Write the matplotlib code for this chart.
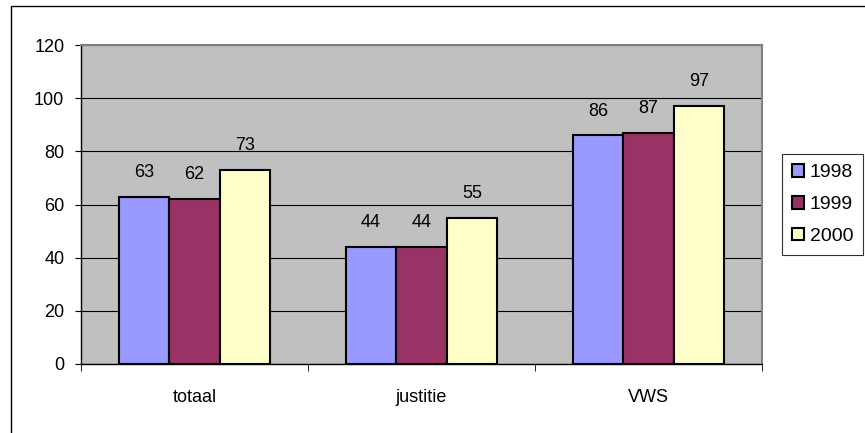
import matplotlib.pyplot as plt
import numpy as np
from matplotlib.patches import Rectangle

# chart data
categories = ["totaal", "justitie", "VWS"]
years = ["1998", "1999", "2000"]
v1998 = [63, 44, 86]
v1999 = [62, 44, 87]
v2000 = [73, 55, 97]

colors = ["#9999FF", "#993366", "#FFFFCC"]

plt.rcParams["font.family"] = ["Liberation Sans", "DejaVu Sans"]
plt.rcParams["font.size"] = 13

fig = plt.figure(figsize=(8.65, 4.33), dpi=100)
ax = fig.add_axes([81 / 865, 1 - 364 / 433, (762 - 81) / 865, (364 - 45) / 433])

# outer chart border (left and top visible)
fig.patches.append(Rectangle((11 / 865, -0.05), 1.0, 1 - 6.5 / 433 + 0.05,
                             transform=fig.transFigure, fill=False,
                             edgecolor="black", linewidth=1.0))

ax.set_facecolor("#C0C0C0")
x = np.arange(len(categories))
width = 0.223
for i, (year, vals) in enumerate(zip(years, [v1998, v1999, v2000])):
    bars = ax.bar(x + (i - 1) * width, vals, width, color=colors[i],
                  edgecolor="black", linewidth=1.5, label=year, zorder=3)
    for b, v in zip(bars, vals):
        ax.annotate(str(v), (b.get_x() + b.get_width() / 2, v),
                    xytext=(0, 17.5), textcoords="offset points",
                    ha="center", va="center", zorder=4)

ax.set_xlim(-0.5, 2.5)
ax.set_ylim(0, 120)
ax.set_yticks(range(0, 121, 20))
ax.yaxis.grid(True, color="black", linewidth=0.8, zorder=1)
ax.set_axisbelow(True)
ax.set_xticks(x)
ax.set_xticklabels(categories)
ax.set_xticks([-0.5, 0.5, 1.5, 2.5], minor=True)
ax.tick_params(axis="x", which="major", length=0, pad=18)
ax.tick_params(axis="x", which="minor", length=5, direction="out")
ax.tick_params(axis="y", length=4.5, direction="out", pad=7.5)

for s in ["left", "bottom"]:
    ax.spines[s].set_color("black")
    ax.spines[s].set_linewidth(1.0)
for s in ["top", "right"]:
    ax.spines[s].set_color("#808080")
    ax.spines[s].set_linewidth(1.5)

leg = ax.legend(loc="center left", bbox_to_anchor=(782 / 865, 1 - 204.5 / 433),
                bbox_transform=fig.transFigure, frameon=True, fancybox=False,
                edgecolor="black", fontsize=14, handlelength=0.62,
                handleheight=0.62, handletextpad=0.3, borderpad=0.5,
                labelspacing=0.75, borderaxespad=0)
leg.get_frame().set_linewidth(0.8)
for h in leg.legend_handles:
    h.set_linewidth(1.5)

fig.savefig("out.png", dpi=100)
